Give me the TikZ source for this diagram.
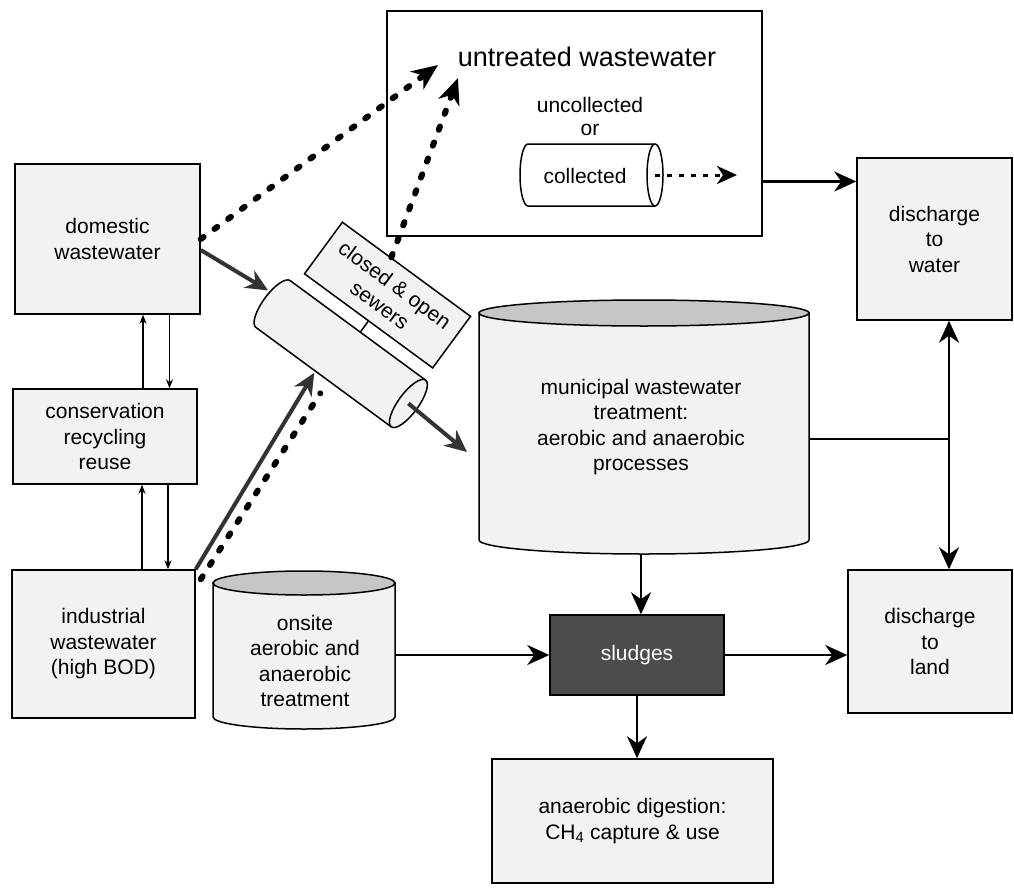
\documentclass[tikz,border=0pt]{standalone}
\usepackage{fontspec}
\setmainfont{Liberation Sans}
\usetikzlibrary{arrows.meta,calc}

\begin{document}
\begin{tikzpicture}[x=1pt, y=-1pt,
  >={Stealth[length=22pt, width=20pt, inset=7pt]},
  box/.style={draw, line width=1.5pt, fill=gray!10, align=center, inner sep=0pt,
    font=\fontsize{21}{25.5}\selectfont},
  lbl/.style={align=center, font=\fontsize{21}{25.5}\selectfont},
  cyl/.style={draw, line width=1.5pt, fill=gray!10},
  cyltop/.style={draw, line width=1.5pt, fill=gray!45},
  flow/.style={line width=2.5pt, ->},
  pipe/.style={line width=4pt, black!80, ->},
  leak/.style={line width=6pt, line cap=round, dash pattern=on 3.5pt off 13.5pt},
  leakhead/.style={-{Stealth[length=26pt, width=22pt, inset=8pt]}},
  thinflow/.style={line width=1.2pt, -{Stealth[length=9pt, width=7pt]}}]
\useasboundingbox (0,0) rectangle (1014,891);

% sources on the left
\node[box, minimum width=185pt, minimum height=150pt] (dom) at (107.5,239) {domestic\\wastewater};
\node[box, minimum width=184pt, minimum height=95pt] (cons) at (105,436.5) {conservation\\recycling\\reuse};
\node[box, minimum width=183pt, minimum height=148pt] (ind) at (103.5,644) {industrial\\wastewater\\(high BOD)};
\draw[thinflow] ([xshift=38pt]cons.north) -- ([xshift=38pt]cons.north |- dom.south);
\draw[thinflow] ([xshift=62pt]dom.south) -- ([xshift=62pt]dom.south |- cons.north);
\draw[thinflow] ([xshift=38.5pt]ind.north) -- ([xshift=38.5pt]ind.north |- cons.south);
\draw[thinflow] ([xshift=63pt]cons.south) -- ([xshift=63pt]cons.south |- ind.north);

% untreated wastewater
\node[draw, line width=1.5pt, fill=white, minimum width=375pt, minimum height=225pt, inner sep=0pt] (untr) at (574.5,123.5) {};
\node[font=\fontsize{27}{32}\selectfont] (untrtxt) at (587,57) {untreated wastewater};
\node[lbl] (uncoll) at (590,105) {uncollected};
\node[lbl] (ortxt) at (590,130) {or};
\draw[line width=1.5pt, fill=white] (528,144) -- (655,144) arc[start angle=90, end angle=-90, x radius=8pt, y radius=31pt]
  -- (528,206) arc[start angle=270, end angle=90, x radius=8pt, y radius=31pt] -- cycle;
\draw[line width=1.5pt] (655,144) arc[start angle=90, end angle=270, x radius=8pt, y radius=31pt];
\node[lbl] (coll) at (585,176) {collected};
\coordinate (collend) at (655,175);
\coordinate (collout) at (737,175);
\draw[line width=3pt, dash pattern=on 5pt off 7pt, -{Stealth[length=20pt, width=18pt, inset=6pt]}] (collend) -- (collout);

% discharge
\node[box, minimum width=155pt, minimum height=162pt] (dw) at (934.5,239) {discharge\\to\\water};
\node[box, minimum width=164pt, minimum height=143pt] (dl) at (930,641.5) {discharge\\to\\land};
\draw[flow] ([yshift=-58pt]untr.east) -- ([yshift=-58pt]untr.east -| dw.west);

% municipal treatment
\draw[cyl] (479,313) -- (479,540) arc[start angle=180, end angle=360, x radius=165pt, y radius=14pt] -- (809,313) -- cycle;
\draw[cyltop] (644,313) ellipse[x radius=165pt, y radius=13pt];
\node[lbl] (muni) at (641,427) {municipal wastewater\\treatment:\\aerobic and anaerobic\\processes};
\coordinate (munibot) at (641,554);
\coordinate (muniright) at (809,439);
\coordinate (split) at (949,439);
\coordinate (munin) at (467,452);

% onsite treatment
\draw[cyl] (213,583) -- (213,717) arc[start angle=180, end angle=360, x radius=91pt, y radius=12pt] -- (395,583) -- cycle;
\draw[cyltop] (304,583) ellipse[x radius=91pt, y radius=12pt];
\node[lbl] (onsite) at (305,661) {onsite\\aerobic and\\anaerobic\\treatment};
\coordinate (onsiteout) at (395,655);

% sludges
\node[box, fill=black!70, text=white, minimum width=174pt, minimum height=80pt] (sl) at (637,655) {sludges};
\node[box, minimum width=281pt, minimum height=124pt] (dig) at (632.5,821) {anaerobic digestion:\\CH\textsubscript{4} capture \& use};
\draw[flow] (munibot) -- (munibot |- sl.north);
\draw[flow] (onsiteout) -- (onsiteout -| sl.west);
\draw[flow] (sl.east) -- (sl.east -| dl.west);
\draw[flow] (sl.south) -- (sl.south |- dig.north);
\draw[line width=2.5pt] (muniright) -- (split);
\draw[flow] (split) -- (split |- dw.south);
\draw[flow] (split) -- (split |- dl.north);

% sewers
\begin{scope}[shift={(273,304)}, rotate=-36.3]
\draw[cyl] (0,-29) -- (168,-29) arc[start angle=90, end angle=-90, x radius=10pt, y radius=29pt]
  -- (0,29) arc[start angle=270, end angle=90, x radius=10pt, y radius=29pt] -- cycle;
\draw[line width=1.5pt] (168,-29) arc[start angle=90, end angle=270, x radius=10pt, y radius=29pt];
\node[box, transform shape, minimum width=159pt, minimum height=64pt] (sewlab) at (87,-75) {closed \& open\\sewers};
\coordinate (sewtop) at (87,-29);
\coordinate (sewin) at (-12,-8);
\coordinate (sewbot) at (74,31);
\coordinate (sewleak) at (91,44);
\coordinate (sewout) at (168,0);
\end{scope}
\draw[line width=1.5pt] (sewlab.south) -- (sewtop);
\draw[pipe] (sewout) -- (munin);
\draw[pipe] ([yshift=-11pt]dom.east) -- (sewin);
\draw[pipe] (ind.north east) -- (sewbot);
\draw[leak] ([shift={(5pt,-10pt)}]ind.north east) -- (sewleak);

% leaks to untreated
\coordinate (untrhit1) at (438,65);
\coordinate (untrhit2) at (458,78);
\draw[leak, leakhead] (dom.east) -- (untrhit1);
\draw[leak, leakhead] ($(sewlab.north)!0.24!(sewlab.north west)$) -- (untrhit2);
\end{tikzpicture}
\end{document}
